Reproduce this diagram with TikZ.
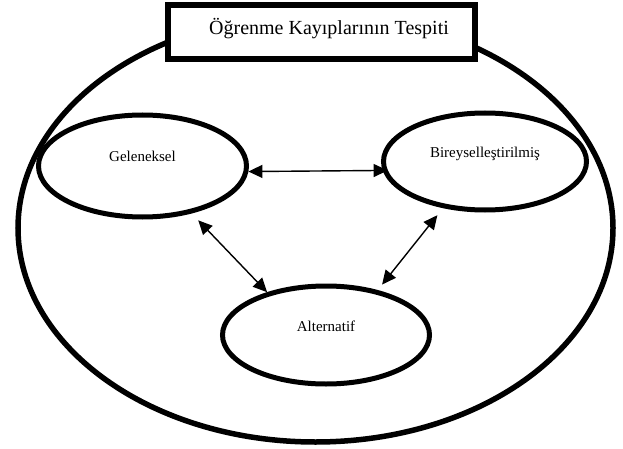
\documentclass[tikz,border=0pt]{standalone}
\usepackage{fontspec}
\setmainfont{Liberation Serif}
\usetikzlibrary{shapes.geometric,arrows.meta}
\tikzset{
  oval/.style={draw, ellipse, line width=5pt, inner sep=0pt, font=\fontsize{15}{18}\selectfont},
  bigoval/.style={draw, ellipse, line width=5.5pt, inner sep=0pt, minimum width=595pt, minimum height=428pt},
  titlebox/.style={draw, rectangle, line width=6.5pt, fill=white, inner sep=0pt,
    minimum width=307pt, minimum height=54pt, font=\fontsize{20}{24}\selectfont},
  arr/.style={{Triangle[length=14pt,width=13pt]}-{Triangle[length=14pt,width=13pt]}, line width=1.4pt}
}
\begin{document}
\begin{tikzpicture}[x=1pt,y=-1pt]
\useasboundingbox (0,0) rectangle (623,449);
\node[bigoval] (outer) at (315.5,228) {};
\node[titlebox] (title) at (321.5,32) {\hspace*{15pt}\raisebox{-3pt}[0pt][0pt]{Öğrenme Kayıplarının Tespiti}};
\node[oval, minimum width=208pt, minimum height=102pt] (gel) at (142.5,166) {\raisebox{4pt}[0pt][0pt]{Geleneksel}};
\node[oval, minimum width=203pt, minimum height=97pt] (bir) at (485,161.5) {\raisebox{4.5pt}[0pt][0pt]{Bireyselleştirilmiş}};
\node[oval, minimum width=207pt, minimum height=98pt] (alt) at (326,335) {\raisebox{4pt}[0pt][0pt]{Alternatif}};
\draw[arr, shorten >=-5pt] (gel.-3) -- (bir.185.5);
\draw[arr, shorten <=9.5pt] (gel.-44) -- (alt.144);
\draw[arr, shorten <=9pt, shorten >=7pt] (bir.228.7) -- (alt.41.8);
\end{tikzpicture}
\end{document}
